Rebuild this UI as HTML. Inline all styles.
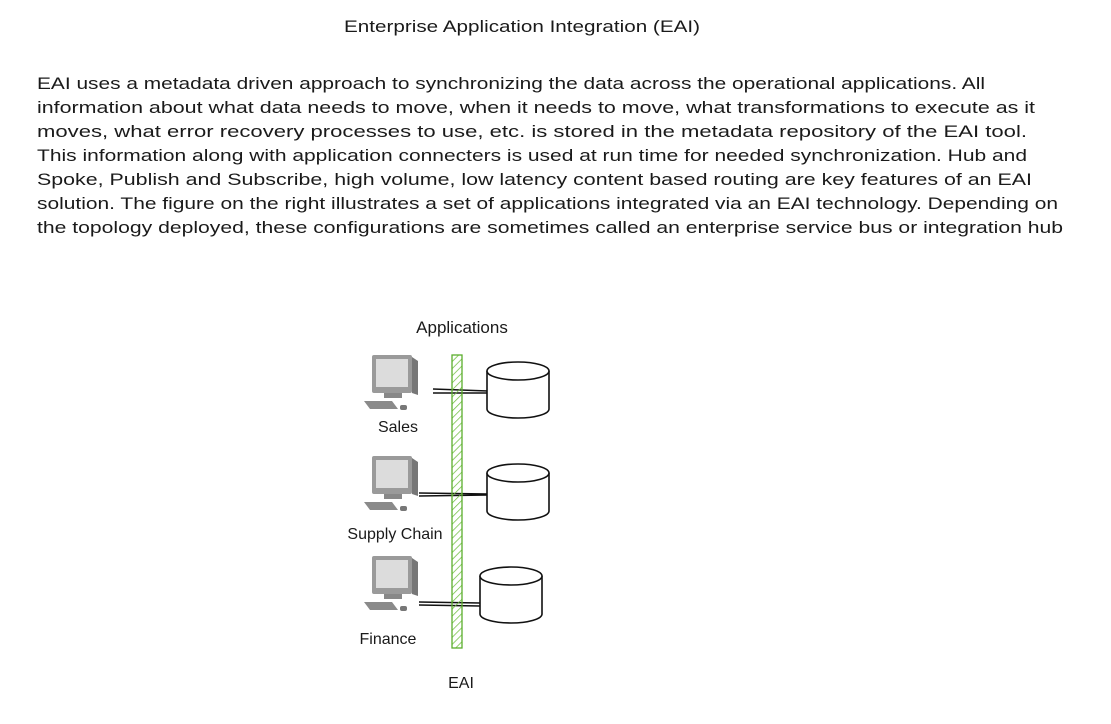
<!DOCTYPE html>
<html><head><style>
body{margin:0;background:#fff;width:1111px;height:719px;overflow:hidden}
svg text{font-family:"Liberation Sans",sans-serif;fill:#1a1a1a}
</style></head><body>
<svg width="1111" height="719" viewBox="0 0 1111 719" xmlns="http://www.w3.org/2000/svg">
<defs>
<pattern id="h" width="5" height="5" patternUnits="userSpaceOnUse" patternTransform="rotate(45)"><line x1="0" y1="0" x2="0" y2="5" stroke="#6fbf3f" stroke-width="1.5"/></pattern>
<g id="pc">
<rect x="10" y="0" width="40" height="38" fill="#9a9a9a" rx="2"/>
<rect x="14" y="4" width="32" height="28" fill="#dcdcdc"/>
<path d="M50 2 L56 6 L56 40 L50 38Z" fill="#777"/>
<rect x="22" y="38" width="18" height="5" fill="#888"/>
<path d="M2 46 L30 46 L36 54 L8 54Z" fill="#8a8a8a"/>
<rect x="38" y="50" width="7" height="5" rx="2" fill="#777"/>
</g>
<g id="cyl">
<path d="M0 10 L0 48 A31 9 0 0 0 62 48 L62 10" fill="#fff" stroke="#111" stroke-width="1.6"/>
<ellipse cx="31" cy="10" rx="31" ry="9" fill="#fff" stroke="#111" stroke-width="1.6"/>
</g>
</defs>
<text x="522" y="32" font-size="17" text-anchor="middle" textLength="356" lengthAdjust="spacingAndGlyphs">Enterprise Application Integration (EAI)</text>
<g font-size="17">
<text x="37" y="89" textLength="948" lengthAdjust="spacingAndGlyphs">EAI uses a metadata driven approach to synchronizing the data across the operational applications. All</text>
<text x="37" y="113" textLength="998" lengthAdjust="spacingAndGlyphs">information about what data needs to move, when it needs to move, what transformations to execute as it</text>
<text x="37" y="137" textLength="990" lengthAdjust="spacingAndGlyphs">moves, what error recovery processes to use, etc. is stored in the metadata repository of the EAI tool.</text>
<text x="37" y="161" textLength="990" lengthAdjust="spacingAndGlyphs">This information along with application connecters is used at run time for needed synchronization. Hub and</text>
<text x="37" y="185" textLength="995" lengthAdjust="spacingAndGlyphs">Spoke, Publish and Subscribe, high volume, low latency content based routing are key features of an EAI</text>
<text x="37" y="209" textLength="1021" lengthAdjust="spacingAndGlyphs">solution. The figure on the right illustrates a set of applications integrated via an EAI technology. Depending on</text>
<text x="37" y="233" textLength="1026" lengthAdjust="spacingAndGlyphs">the topology deployed, these configurations are sometimes called an enterprise service bus or integration hub</text>
</g>
<text x="462" y="333" font-size="17" text-anchor="middle">Applications</text>
<use href="#pc" x="362" y="355"/>
<use href="#pc" x="362" y="456"/>
<use href="#pc" x="362" y="556"/>
<g stroke="#111" stroke-width="1.5">
<line x1="433" y1="389" x2="488" y2="391"/><line x1="433" y1="393" x2="488" y2="393"/>
<line x1="419" y1="493" x2="488" y2="494"/><line x1="419" y1="496" x2="488" y2="495"/>
<line x1="419" y1="602" x2="480" y2="603"/><line x1="419" y1="605" x2="480" y2="606"/>
</g>
<rect x="452" y="355" width="10" height="293" fill="url(#h)" stroke="#5aae2c" stroke-width="1.3"/>
<use href="#cyl" x="487" y="361"/>
<use href="#cyl" x="487" y="463"/>
<use href="#cyl" x="480" y="566"/>
<text x="398" y="432" font-size="16" text-anchor="middle">Sales</text>
<text x="395" y="539" font-size="16" text-anchor="middle">Supply Chain</text>
<text x="388" y="644" font-size="16" text-anchor="middle">Finance</text>
<text x="461" y="688" font-size="16" text-anchor="middle">EAI</text>
</svg>
</body></html>
